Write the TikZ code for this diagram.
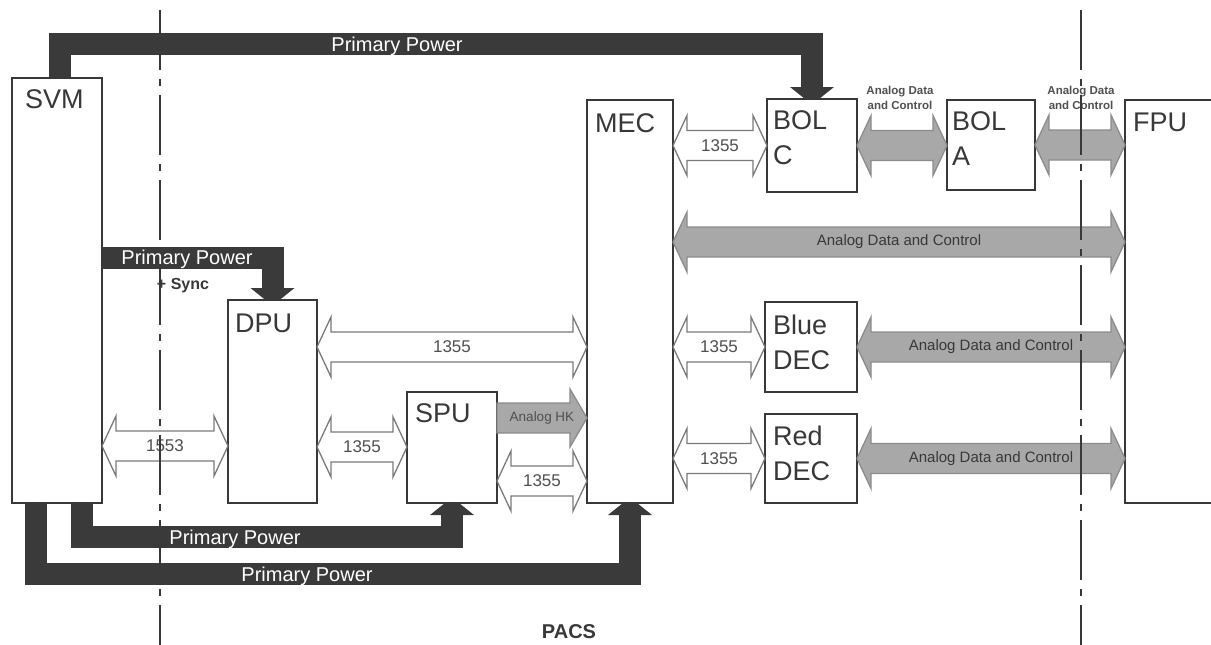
\documentclass[tikz,border=0pt]{standalone}
\usepackage{fontspec}
\setmainfont{Liberation Sans}
\usetikzlibrary{calc}
\definecolor{ink}{HTML}{383838}
\definecolor{barc}{HTML}{3A3A3A}
\definecolor{gfill}{HTML}{A8A8A8}
\definecolor{gline}{HTML}{8C8C8C}
\definecolor{wline}{HTML}{7A7A7A}
\definecolor{txt}{HTML}{505050}
% double-headed bus arrow between two points (y of first point used)
\newcommand\busarrow[6]{%
 \path[#1] let \p1=#2, \p2=#3 in
 (\x1,\y1) -- (\x1+14pt,\y1+30pt) -- (\x1+14pt,\y1+15pt) -- (\x2-14pt,\y1+15pt) -- (\x2-14pt,\y1+30pt) -- (\x2,\y1)
 -- (\x2-14pt,\y1-30pt) -- (\x2-14pt,\y1-15pt) -- (\x1+14pt,\y1-15pt) -- (\x1+14pt,\y1-30pt) -- cycle
 (\x1/2+\x2/2,\y1) node[#4] (#5) {#6};}
% single-headed arrow
\newcommand\hkarrow[6]{%
 \path[#1] let \p1=#2, \p2=#3 in
 (\x1,\y1+15pt) -- (\x2-17pt,\y1+15pt) -- (\x2-17pt,\y1+29pt) -- (\x2,\y1)
 -- (\x2-17pt,\y1-29pt) -- (\x2-17pt,\y1-15pt) -- (\x1,\y1-15pt) -- cycle
 (\x1/2+\x2/2,\y1) node[#4] (#5) {#6};}
\newcommand\headdown[1]{\fill[barc] let \p1=#1 in (\x1-22pt,\y1+12pt) -- (\x1+22pt,\y1+12pt) -- (\x1+7pt,\y1) -- (\x1-7pt,\y1) -- cycle;}
\newcommand\headup[1]{\fill[barc] let \p1=#1 in (\x1-22pt,\y1-12pt) -- (\x1+22pt,\y1-12pt) -- (\x1+7pt,\y1) -- (\x1-7pt,\y1) -- cycle;}
\begin{document}
\begin{tikzpicture}[x=1pt,y=-1pt,
 box/.style={draw=ink, line width=2.4pt, fill=white, inner sep=0pt, outer sep=0pt, anchor=north west},
 boxlbl/.style={anchor=north west, inner sep=0pt, text=ink, font=\fontsize{27}{35}\selectfont, align=left},
 wbus/.style={draw=wline, fill=white, line width=1.3pt, line join=miter},
 gbus/.style={draw=gline, fill=gfill, line width=1.3pt, line join=miter},
 numlbl/.style={text=txt, font=\fontsize{17}{20}\selectfont, inner sep=0pt},
 adclbl/.style={text=ink, font=\fontsize{15}{17}\selectfont, inner sep=0pt},
 hklbl/.style={text=txt, font=\fontsize{13.5}{16}\selectfont, inner sep=0pt},
 pwr/.style={draw=barc, line width=22pt, line join=miter},
 pwrlbl/.style={text=white, font=\fontsize{20}{22}\selectfont, inner sep=0pt, anchor=base},
 small/.style={text=txt, font=\bfseries\fontsize{11.5}{14.5}\selectfont, align=center, inner sep=0pt},
 divider/.style={draw=ink, line width=2pt, dash pattern=on 60pt off 9pt on 7pt off 9pt}]

\useasboundingbox[fill=white] (0,0) rectangle (1211,645);

% boxes
\node[box, minimum width=90pt, minimum height=425pt] (svm) at (12,78) {};
\node[box, minimum width=89pt, minimum height=203pt] (dpu) at (228,300) {};
\node[box, minimum width=90pt, minimum height=111pt] (spu) at (407,392) {};
\node[box, minimum width=86pt, minimum height=403pt] (mec) at (587,100) {};
\node[box, minimum width=90pt, minimum height=93pt] (bolc) at (767,99) {};
\node[box, minimum width=88pt, minimum height=90pt] (bola) at (947,100) {};
\node[box, minimum width=100pt, minimum height=403pt] (fpu) at (1125,100) {};
\node[box, minimum width=92pt, minimum height=90pt] (bdec) at (765,302) {};
\node[box, minimum width=92pt, minimum height=89pt] (rdec) at (765,414) {};

% box labels
\node[boxlbl] (svmt) at ([xshift=13pt,yshift=-11pt]svm.north west) {SVM};
\node[boxlbl] (dput) at ([xshift=7pt,yshift=-14pt]dpu.north west) {DPU};
\node[boxlbl] (sput) at ([xshift=8pt,yshift=-11pt]spu.north west) {SPU};
\node[boxlbl] (mect) at ([xshift=8pt,yshift=-13pt]mec.north west) {MEC};
\node[boxlbl] (bolct) at ([xshift=6pt,yshift=-11pt]bolc.north west) {BOL\\C};
\node[boxlbl] (bolat) at ([xshift=5pt,yshift=-11pt]bola.north west) {BOL\\A};
\node[boxlbl] (fput) at ([xshift=8pt,yshift=-13pt]fpu.north west) {FPU};
\node[boxlbl] (bdect) at ([xshift=8pt,yshift=-13pt]bdec.north west) {Blue\\DEC};
\node[boxlbl] (rdect) at ([xshift=8pt,yshift=-12pt]rdec.north west) {Red\\DEC};

% data connections
\busarrow{wbus}{(mec.east |- bolc.west)}{(bolc.west)}{numlbl}{n1}{1355}
\busarrow{gbus}{(bolc.east)}{(bola.west)}{}{g1}{}
\busarrow{gbus}{(bola.east)}{(fpu.west)}{}{g2}{}
\busarrow{gbus}{([yshift=-142pt]mec.north east)}{(fpu.west)}{adclbl}{g3}{Analog Data and Control}
\busarrow{wbus}{(dpu.east |- bdec.west)}{(mec.west)}{numlbl}{n2}{1355}
\busarrow{wbus}{(mec.east |- bdec.west)}{(bdec.west)}{numlbl}{n3}{1355}
\busarrow{gbus}{(bdec.east)}{(fpu.west)}{adclbl}{g4}{Analog Data and Control}
\busarrow{wbus}{(mec.east |- rdec.west)}{(rdec.west)}{numlbl}{n4}{1355}
\busarrow{gbus}{(rdec.east)}{(fpu.west)}{adclbl}{g5}{Analog Data and Control}
\busarrow{wbus}{([yshift=57pt]svm.south east)}{(dpu.west)}{numlbl}{n5}{1553}
\busarrow{wbus}{([yshift=56pt]dpu.south east)}{(spu.west)}{numlbl}{n6}{1355}
\hkarrow{gbus}{([yshift=-26pt]spu.north east)}{(mec.west)}{hklbl}{hk}{Analog HK}
\busarrow{wbus}{([yshift=22pt]spu.south east)}{(mec.west)}{numlbl}{n7}{1355}

\node[small] (adc1) at (900,98) {Analog Data\\and Control};
\node[small] (adc2) at (1081,98) {Analog Data\\and Control};

% dividers
\draw[divider] (160,10) -- (160,645);
\draw[divider] (1081,10) -- (1081,645);

% power lines
\draw[pwr] ([xshift=48pt]svm.north west) -- ++(0,-34) -| ([yshift=12pt]bolc.north);
\headdown{(bolc.north)}
\draw[pwr] ([yshift=-179.5pt]svm.north east) -| ([yshift=12pt]dpu.north);
\headdown{(dpu.north)}
\draw[pwr] ([xshift=69.5pt]svm.south west) -- ++(0,34) -| ([yshift=-12pt]spu.south);
\headup{(spu.south)}
\draw[pwr] ([xshift=24pt]svm.south west) -- ++(0,70.5) -| ([yshift=-12pt]mec.south);
\headup{(mec.south)}

\node[pwrlbl] (pp1) at (397,51.5) {Primary Power};
\node[pwrlbl] (pp2) at (187,264.5) {Primary Power};
\node[pwrlbl] (pp3) at (235,544) {Primary Power};
\node[pwrlbl] (pp4) at (307,581) {Primary Power};

\node[font=\bfseries\fontsize{16}{18}\selectfont, text=ink, inner sep=0pt] (sync) at (183,286) {+ Sync};
\node[font=\bfseries\fontsize{20}{22}\selectfont, text=ink, inner sep=0pt] (pacs) at (569,632) {PACS};
\end{tikzpicture}
\end{document}
